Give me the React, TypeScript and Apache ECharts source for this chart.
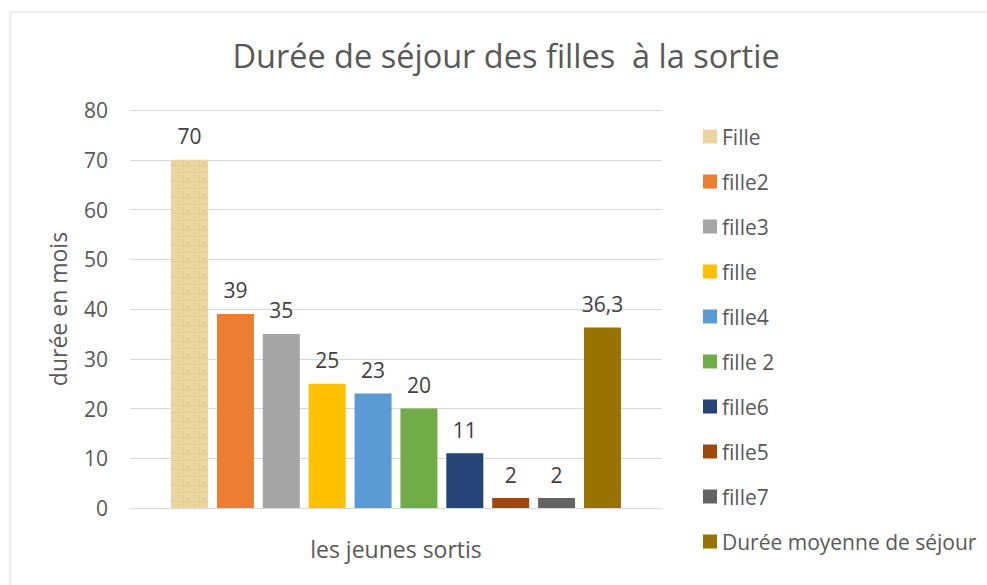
import React, { useEffect, useRef } from "react";
import * as echarts from "echarts";

const categories = [""];
const seriesNames = [
  "Fille",
  "fille2",
  "fille3",
  "fille",
  "fille4",
  "fille 2",
  "fille6",
  "fille5",
  "fille7",
  "Durée moyenne de séjour",
];
const seriesValues = [70, 39, 35, 25, 23, 20, 11, 2, 2, 36.3];
const seriesColors = [
  "#EAD49E",
  "#ED7D31",
  "#A5A5A5",
  "#FFC000",
  "#5B9BD5",
  "#70AD47",
  "#264478",
  "#9E480E",
  "#636363",
  "#997300",
];
const yTicks = { min: 0, max: 80, interval: 10 };

const FONT = "'Open Sans', sans-serif";

function makeTexture(): any {
  const c = document.createElement("canvas");
  c.width = 16;
  c.height = 16;
  const ctx = c.getContext("2d");
  if (!ctx) return "#EAD49E";
  ctx.fillStyle = "#EBD6A2";
  ctx.fillRect(0, 0, 16, 16);
  ctx.fillStyle = "#E3CA8E";
  ctx.fillRect(0, 5, 16, 1);
  ctx.fillRect(0, 12, 16, 1);
  ctx.fillStyle = "#E6CF96";
  ctx.fillRect(7, 0, 1, 16);
  ctx.fillRect(2, 8, 3, 2);
  ctx.fillRect(11, 2, 3, 2);
  return { image: c, repeat: "repeat" };
}

export default function App() {
  const ref = useRef<HTMLDivElement>(null);
  useEffect(() => {
    if (!ref.current) return;
    const chart = echarts.init(ref.current, undefined, { renderer: "svg" });
    const texture = makeTexture();
    chart.setOption({
      animation: false,
      backgroundColor: "#ffffff",
      textStyle: { fontFamily: FONT },
      title: {
        text: "Durée de séjour des filles  à la sortie",
        left: 501,
        textAlign: "center",
        top: 34,
        textStyle: { fontFamily: FONT, fontSize: 32.5, fontWeight: "normal", color: "#595959" },
      },
      graphic: [
        {
          type: "rect",
          shape: { x: 10, y: 12, width: 1000, height: 600 },
          style: { fill: "none", stroke: "#D9D9D9", lineWidth: 1 },
          silent: true,
        },
      ],
      legend: {
        orient: "vertical",
        left: 703,
        top: 126,
        padding: 0,
        itemWidth: 14,
        itemHeight: 14,
        itemGap: 24,
        icon: "rect",
        textStyle: { fontFamily: FONT, fontSize: 21, color: "#595959", lineHeight: 21 },
        data: seriesNames.map((n, i) => ({
          name: n,
          itemStyle: { color: i === 0 ? "#EAD49E" : seriesColors[i] },
        })),
      },
      grid: { left: 130, right: 325, top: 110, bottom: 77 },
      xAxis: {
        type: "category",
        data: categories,
        name: "les jeunes sortis",
        nameLocation: "middle",
        nameGap: 29,
        nameTextStyle: { fontFamily: FONT, fontSize: 23, color: "#595959" },
        axisLine: { lineStyle: { color: "#D9D9D9" } },
        axisTick: { show: false },
        axisLabel: { show: false },
      },
      yAxis: {
        type: "value",
        min: yTicks.min,
        max: yTicks.max,
        interval: yTicks.interval,
        name: "durée en mois",
        nameLocation: "middle",
        nameGap: 61,
        nameTextStyle: { fontFamily: FONT, fontSize: 23, color: "#595959" },
        axisLine: { show: false },
        axisTick: { show: false },
        axisLabel: { fontFamily: FONT, fontSize: 21, color: "#595959", margin: 22 },
        splitLine: { lineStyle: { color: "#D9D9D9" } },
      },
      series: seriesNames.map((name, i) => ({
        type: "bar",
        name,
        data: [seriesValues[i]],
        barWidth: 37,
        barGap: "24%",
        itemStyle: { color: i === 0 ? texture : seriesColors[i] },
        label: {
          show: true,
          position: "top",
          distance: 13,
          fontFamily: FONT,
          fontSize: 21,
          color: "#404040",
          formatter: (p: any) => String(p.value).replace(".", ","),
        },
      })),
    });
    return () => chart.dispose();
  }, []);
  return (
    <div
      ref={ref}
      style={{ position: "fixed", left: 0, top: 0, width: 987, height: 585 }}
    />
  );
}
